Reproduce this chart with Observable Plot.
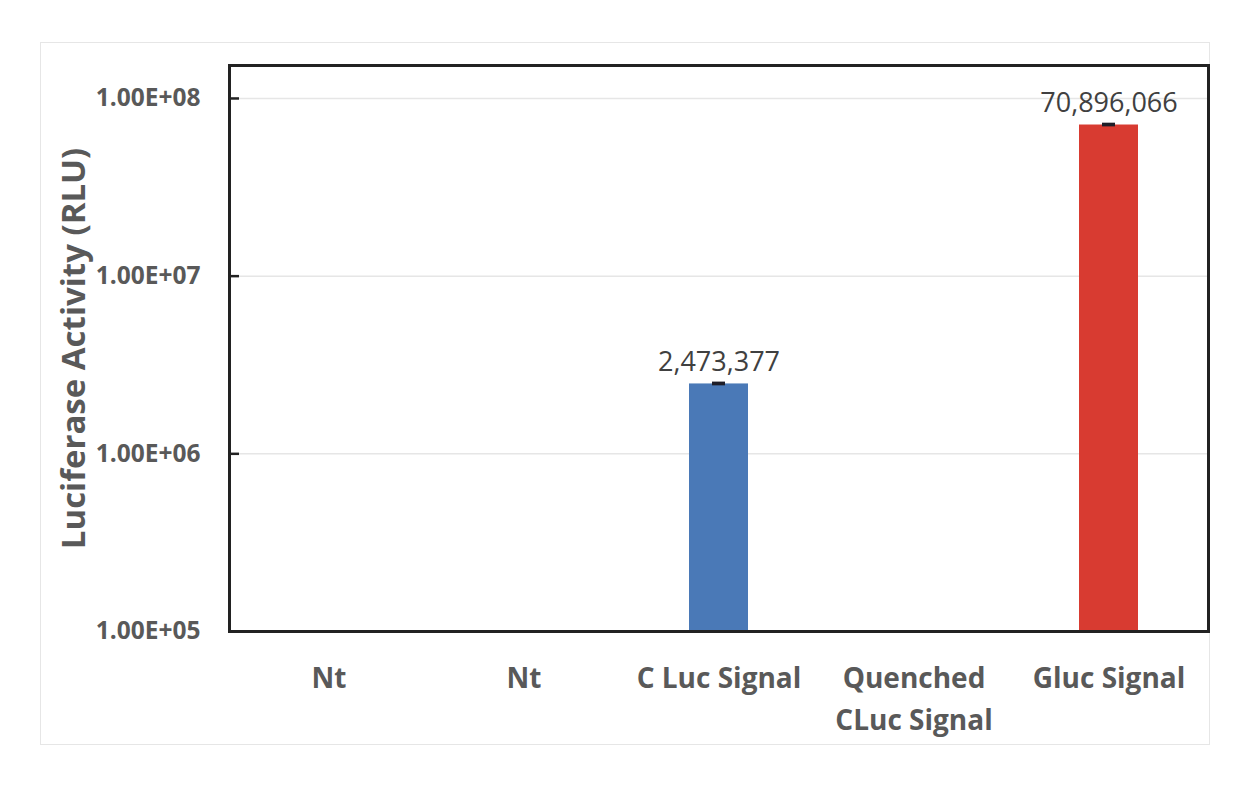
<!DOCTYPE html>
<html>
<head>
<meta charset="utf-8">
<script src="https://cdn.jsdelivr.net/npm/d3@7"></script>
<script src="https://cdn.jsdelivr.net/npm/@observablehq/plot@0.6"></script>
<style>
  html, body { margin: 0; padding: 0; background: #fff; }
  #wrap { position: relative; width: 1234px; height: 799px; }
  #border { position: absolute; left: 40px; top: 42px; width: 1170px; height: 703px; border: 1px solid #e6e6e6; box-sizing: border-box; }
  #chart { position: absolute; left: 0; top: 0; }
</style>
</head>
<body>
<div id="wrap"><div id="border"></div><div id="chart"></div></div>
<script>
const categories = ["Nt", "Nt", "C Luc Signal", "Quenched\nCLuc Signal", "Gluc Signal"];
const values = [null, null, 2473377, null, 70896066];
const errors = [null, null, 60000, null, 1700000];
const barColors = ["#4a79b7", "#4a79b7", "#4a79b7", "#4a79b7", "#d83b31"];
const yTicks = [1e5, 1e6, 1e7, 1e8];
const yTickLabels = ["1.00E+05", "1.00E+06", "1.00E+07", "1.00E+08"];

const data = categories.map((c, i) => ({idx: i, cat: c, value: values[i], err: errors[i], color: barColors[i]}));
const shown = data.filter(d => d.value != null);

const font = "'Open Sans', sans-serif";

const plot = Plot.plot({
  width: 1234,
  height: 799,
  marginLeft: 229,
  marginRight: 26,
  marginTop: 65,
  marginBottom: 168,
  style: {fontFamily: font, background: "transparent"},
  x: {type: "band", domain: data.map(d => d.idx), padding: 0},
  y: {type: "log", domain: [1e5, 1.533e8]},
  marks: [
    Plot.ruleY(yTicks.slice(1), {stroke: "#e6e6e6", strokeWidth: 1.5}),
    Plot.barY(shown, {x: "idx", y1: 1e5, y2: "value", fill: "color", insetLeft: 68, insetRight: 68}),
    Plot.rect(shown, {x: "idx", y1: d => d.value - d.err, y2: d => d.value + d.err, fill: "#1e1e28", insetLeft: 91, insetRight: 91}),
    Plot.text(shown, {x: "idx", y: "value", text: d => d3.format(",")(d.value), dy: -22, fontSize: 27, fill: "#404040", fontFamily: font}),
    Plot.axisY({ticks: yTicks, tickFormat: (d) => yTickLabels[yTicks.indexOf(d)], tickSize: 0, tickPadding: 29,
      fontSize: 24.5, fontWeight: "bold", fill: "#595959", color: "#595959",
      label: "Luciferase Activity (RLU)", labelAnchor: "center", labelOffset: 168, labelArrow: "none"}),
    Plot.axisY({ticks: yTicks.slice(1), tickSize: 10, text: null, dx: 10, stroke: "#222", strokeWidth: 2.5, label: null}),
    Plot.axisX({tickFormat: i => categories[i], tickSize: 0, tickPadding: 27, fontSize: 28, fontWeight: "bold", fill: "#595959", lineHeight: 1.5, label: null}),
    Plot.frame({stroke: "#222", strokeWidth: 3})
  ]
});
document.getElementById("chart").appendChild(plot);
plot.querySelectorAll("g[aria-label='y-axis label'] text").forEach(t => {
  t.setAttribute("font-size", "33");
  t.setAttribute("font-weight", "bold");
  t.setAttribute("fill", "#595959");
});
</script>
</body>
</html>
